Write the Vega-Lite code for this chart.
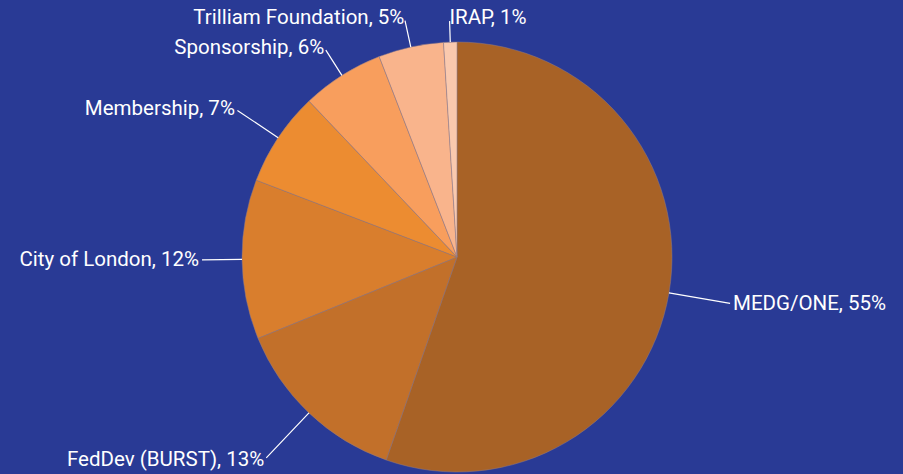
{
  "$schema": "https://vega.github.io/schema/vega-lite/v6.json",
  "width": 892,
  "height": 434,
  "autosize": {"type": "none"},
  "padding": {"left": 11, "top": 40, "right": 0, "bottom": 0},
  "background": "#293A95",
  "config": {"view": {"stroke": null}, "text": {"font": "Roboto", "fontSize": 20.5, "color": "#FFFFFF"}},
  "data": {
    "values": [
      {"category": "MEDG/ONE", "value": 55.4, "order": 1, "label": "MEDG/ONE, 55%"},
      {"category": "FedDev (BURST)", "value": 13.5, "order": 2, "label": "FedDev (BURST), 13%"},
      {"category": "City of London", "value": 12.0, "order": 3, "label": "City of London, 12%"},
      {"category": "Membership", "value": 7.1, "order": 4, "label": "Membership, 7%"},
      {"category": "Sponsorship", "value": 6.2, "order": 5, "label": "Sponsorship, 6%"},
      {"category": "Trilliam Foundation", "value": 4.9, "order": 6, "label": "Trilliam Foundation, 5%"},
      {"category": "IRAP", "value": 1.0, "order": 7, "label": "IRAP, 1%"}
    ]
  },
  "transform": [
    {"stack": "value", "groupby": [], "sort": [{"field": "order", "order": "ascending"}], "as": ["s0", "s1"]},
    {"fold": ["s0", "s1"], "as": ["edge", "ang"]},
    {"aggregate": [{"op": "mean", "field": "ang", "as": "mid"}], "groupby": ["category", "value", "order", "label"]}
  ],
  "layer": [
    {
      "mark": {"type": "arc", "radius": 215, "stroke": "#8E7B86", "strokeWidth": 0.5},
      "encoding": {
        "theta": {"field": "value", "type": "quantitative", "stack": true},
        "order": {"field": "order", "type": "quantitative"},
        "color": {
          "field": "category",
          "type": "nominal",
          "legend": null,
          "scale": {
            "domain": ["MEDG/ONE", "FedDev (BURST)", "City of London", "Membership", "Sponsorship", "Trilliam Foundation", "IRAP"],
            "range": ["#A86226", "#C2702A", "#D97E2D", "#EC8C31", "#F89E5D", "#F9B48C", "#FAC9AE"]
          }
        }
      }
    },
    {"transform": [{"filter": {"field": "category", "equal": "MEDG/ONE"}}],
     "mark": {"type": "arc", "radius": 277, "radius2": 215, "stroke": "#FFFFFF", "strokeWidth": 1.2, "fill": null},
     "encoding": {"theta": {"field": "mid", "type": "quantitative"}, "theta2": {"field": "mid"}}},
    {"transform": [{"filter": {"field": "category", "equal": "MEDG/ONE"}}],
     "mark": {"type": "text", "radius": 280, "align": "left", "baseline": "middle"},
     "encoding": {"theta": {"field": "mid", "type": "quantitative"}, "text": {"field": "label"}}},
    {"transform": [{"filter": {"field": "category", "equal": "FedDev (BURST)"}}],
     "mark": {"type": "arc", "radius": 277, "radius2": 215, "stroke": "#FFFFFF", "strokeWidth": 1.2, "fill": null},
     "encoding": {"theta": {"field": "mid", "type": "quantitative"}, "theta2": {"field": "mid"}}},
    {"transform": [{"filter": {"field": "category", "equal": "FedDev (BURST)"}}],
     "mark": {"type": "text", "radius": 280, "align": "right", "baseline": "middle"},
     "encoding": {"theta": {"field": "mid", "type": "quantitative"}, "text": {"field": "label"}}},
    {"transform": [{"filter": {"field": "category", "equal": "City of London"}}],
     "mark": {"type": "arc", "radius": 255, "radius2": 215, "stroke": "#FFFFFF", "strokeWidth": 1.2, "fill": null},
     "encoding": {"theta": {"field": "mid", "type": "quantitative"}, "theta2": {"field": "mid"}}},
    {"transform": [{"filter": {"field": "category", "equal": "City of London"}}],
     "mark": {"type": "text", "radius": 258, "align": "right", "baseline": "middle"},
     "encoding": {"theta": {"field": "mid", "type": "quantitative"}, "text": {"field": "label"}}},
    {"transform": [{"filter": {"field": "category", "equal": "Membership"}}],
     "mark": {"type": "arc", "radius": 264, "radius2": 215, "stroke": "#FFFFFF", "strokeWidth": 1.2, "fill": null},
     "encoding": {"theta": {"field": "mid", "type": "quantitative"}, "theta2": {"field": "mid"}}},
    {"transform": [{"filter": {"field": "category", "equal": "Membership"}}],
     "mark": {"type": "text", "radius": 267, "align": "right", "baseline": "middle"},
     "encoding": {"theta": {"field": "mid", "type": "quantitative"}, "text": {"field": "label"}}},
    {"transform": [{"filter": {"field": "category", "equal": "Sponsorship"}}],
     "mark": {"type": "arc", "radius": 245, "radius2": 215, "stroke": "#FFFFFF", "strokeWidth": 1.2, "fill": null},
     "encoding": {"theta": {"field": "mid", "type": "quantitative"}, "theta2": {"field": "mid"}}},
    {"transform": [{"filter": {"field": "category", "equal": "Sponsorship"}}],
     "mark": {"type": "text", "radius": 248, "align": "right", "baseline": "middle"},
     "encoding": {"theta": {"field": "mid", "type": "quantitative"}, "text": {"field": "label"}}},
    {"transform": [{"filter": {"field": "category", "equal": "Trilliam Foundation"}}],
     "mark": {"type": "arc", "radius": 242, "radius2": 215, "stroke": "#FFFFFF", "strokeWidth": 1.2, "fill": null},
     "encoding": {"theta": {"field": "mid", "type": "quantitative"}, "theta2": {"field": "mid"}}},
    {"transform": [{"filter": {"field": "category", "equal": "Trilliam Foundation"}}],
     "mark": {"type": "text", "radius": 245, "align": "right", "baseline": "middle"},
     "encoding": {"theta": {"field": "mid", "type": "quantitative"}, "text": {"field": "label"}}},
    {"transform": [{"filter": {"field": "category", "equal": "IRAP"}}],
     "mark": {"type": "arc", "radius": 236, "radius2": 215, "stroke": "#FFFFFF", "strokeWidth": 1.2, "fill": null},
     "encoding": {"theta": {"field": "mid", "type": "quantitative"}, "theta2": {"field": "mid"}}},
    {"transform": [{"filter": {"field": "category", "equal": "IRAP"}}],
     "mark": {"type": "text", "radius": 239, "align": "left", "baseline": "middle"},
     "encoding": {"theta": {"field": "mid", "type": "quantitative"}, "text": {"field": "label"}}}
  ]
}
